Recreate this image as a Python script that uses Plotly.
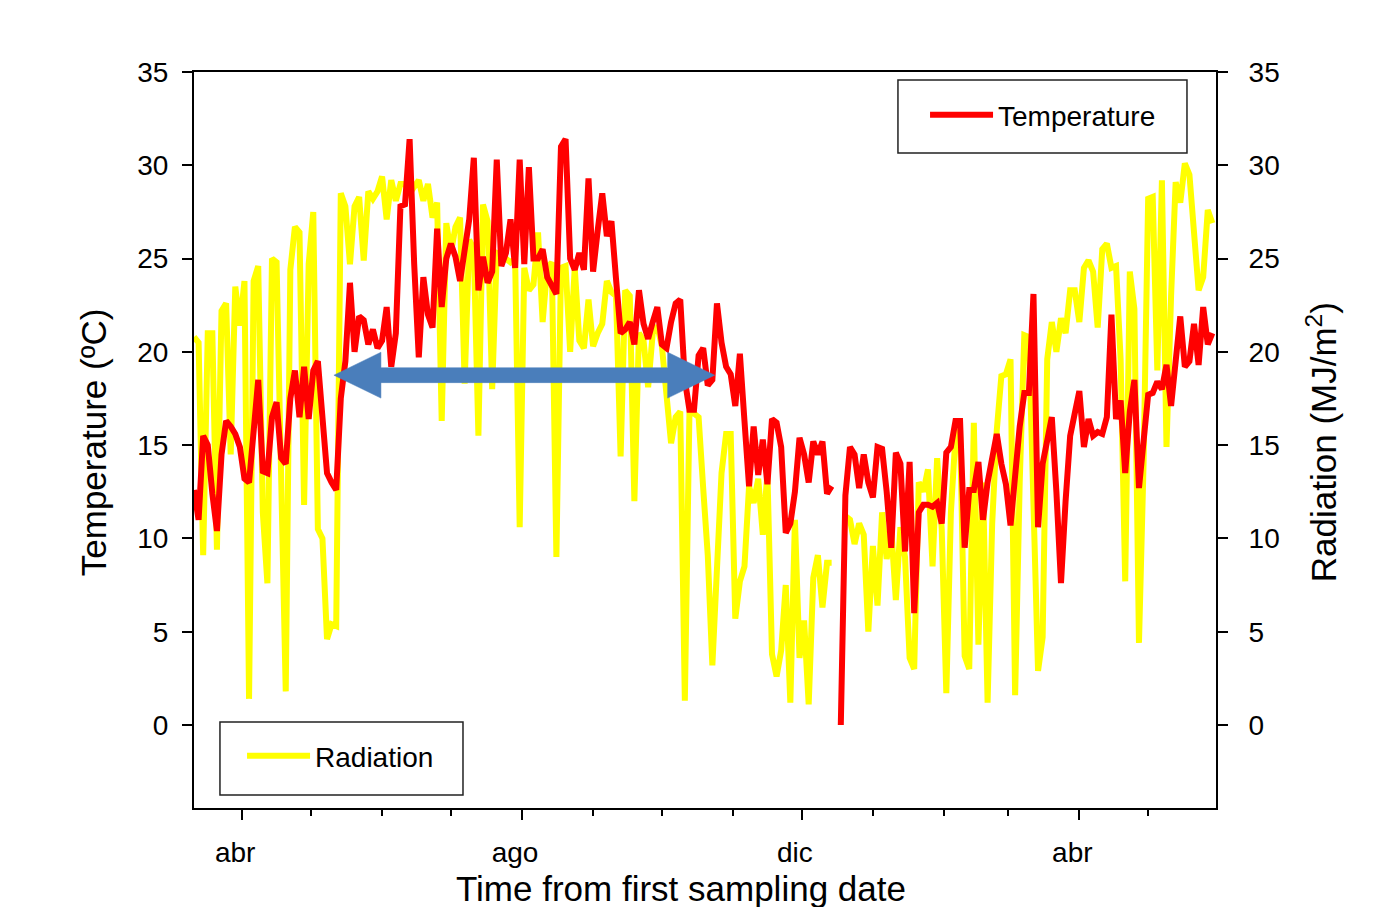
import numpy as np
import pandas as pd
import plotly.graph_objects as go

# ---------------- data ----------------
start_date = "2009-03-11"   # first sampling date
step_days = 2               # spacing between readings

temperature = [
    12.6, 11.0, 15.5, 15.0, 12.4, 10.4, 14.5, 16.3, 16.0, 15.6,
    14.9, 13.2, 13.0, 16.0, 18.5, 13.6, 13.5, 16.5, 17.3, 14.3,
    14.0, 17.5, 19.0, 16.5, 19.2, 16.4, 19.0, 19.5, 16.7, 13.5,
    13.0, 12.6, 17.5, 19.5, 23.7, 20.0, 21.9, 21.7, 20.4, 21.2,
    20.2, 20.6, 22.4, 19.2, 21.0, 27.8, 27.9, 31.4, 24.7, 19.7,
    24.0, 22.0, 21.3, 26.6, 22.4, 25.0, 25.8, 25.1, 23.8, 25.5,
    27.1, 30.4, 23.3, 25.1, 23.7, 24.3, 30.3, 24.6, 25.3, 27.1,
    24.5, 30.3, 24.7, 29.9, 25.0, 25.0, 25.5, 24.0, 23.5, 23.1,
    31.0, 31.4, 25.0, 24.4, 25.3, 24.4, 29.3, 24.3, 26.5, 28.5,
    26.2, 27.0, 23.9, 21.0, 21.2, 21.6, 20.4, 23.3, 21.5, 20.7,
    21.6, 22.4, 20.4, 20.2, 21.6, 22.6, 22.8, 18.5, 16.9, 16.9,
    19.8, 20.2, 18.2, 18.5, 22.6, 20.5, 19.2, 18.8, 17.1, 19.9,
    16.3, 12.8, 16.0, 13.4, 15.3, 12.9, 16.4, 16.2, 14.9, 10.3,
    10.8, 12.5, 15.4, 14.5, 13.0, 15.2, 14.5, 15.2, 12.4, 12.8,
    None, 0.0, 12.3, 14.9, 14.5, 12.7, 14.5, 13.0, 12.2, 14.9,
    14.8, 12.5, 9.5, 14.6, 14.0, 9.3, 14.1, 6.0, 11.4, 11.8,
    11.8, 11.7, 11.9, 10.8, 14.6, 14.9, 16.3, 16.3, 9.5, 12.6,
    12.6, 14.1, 11.0, 13.0, 14.2, 15.6, 14.0, 12.9, 10.7, 13.5,
    16.0, 17.8, 17.8, 23.1, 10.6, 14.0, 15.3, 16.5, 12.5, 7.6,
    12.0, 15.5, 16.7, 17.9, 14.9, 16.4, 15.5, 15.7, 15.6, 16.5,
    22.0, 16.4, 17.4, 13.5, 16.8, 18.5, 12.7, 15.0, 17.7, 17.8,
    18.4, 18.0, 19.3, 17.1, 19.2, 21.9, 19.2, 19.5, 21.5, 19.3,
    22.4, 20.4, 21.0,
]

radiation = [
    20.8, 20.5, 9.1, 21.0, 21.0, 9.4, 22.2, 22.6, 14.5, 23.5,
    21.4, 23.8, 1.4, 23.8, 24.6, 11.4, 7.6, 25.0, 24.8, 11.3,
    1.8, 24.4, 26.7, 26.4, 11.8, 24.7, 27.5, 10.5, 10.0, 4.6,
    5.4, 5.3, 28.5, 27.8, 24.7, 27.8, 28.3, 24.9, 28.6, 28.2,
    28.6, 29.4, 27.1, 29.2, 28.1, 29.0, 29.0, 28.5, 28.8, 29.2,
    28.1, 29.0, 27.2, 28.0, 16.3, 26.9, 25.3, 26.7, 27.2, 18.3,
    26.0, 25.5, 15.5, 27.9, 27.0, 18.0, 25.3, 25.2, 25.0, 24.8,
    25.0, 10.6, 24.5, 23.3, 23.6, 26.4, 21.6, 24.5, 24.8, 9.0,
    24.5, 24.6, 20.0, 24.5, 20.6, 20.2, 22.8, 20.3, 21.0, 21.5,
    23.8, 23.2, 23.0, 14.4, 23.3, 23.0, 12.0, 21.0, 20.6, 18.1,
    21.0, 21.4, 20.3, 18.0, 15.1, 16.5, 16.8, 1.3, 16.7, 16.7,
    16.5, 12.7, 9.1, 3.2, 8.5, 13.5, 15.6, 15.6, 5.7, 7.7,
    8.5, 12.8, 11.9, 13.2, 10.2, 13.5, 3.8, 2.6, 4.0, 7.5,
    1.2, 11.0, 3.6, 5.6, 1.1, 7.9, 9.1, 6.3, 8.7, 8.7,
    None, None, 11.2, 11.0, 9.7, 10.8, 10.2, 5.0, 9.6, 6.4,
    11.4, 8.9, 10.5, 6.7, 10.6, 9.0, 3.6, 3.0, 13.0, 12.5,
    13.7, 8.5, 14.3, 10.5, 1.7, 11.4, 15.5, 15.8, 3.7, 3.0,
    16.2, 4.3, 13.0, 1.2, 10.8, 15.8, 18.7, 18.8, 19.6, 1.6,
    13.0, 20.9, 20.8, 12.0, 2.9, 4.7, 19.6, 21.6, 20.0, 21.8,
    21.0, 23.3, 23.3, 21.6, 24.5, 24.9, 24.3, 21.3, 25.5, 25.8,
    24.5, 24.6, 19.6, 7.7, 24.3, 22.3, 4.4, 14.0, 28.2, 28.3,
    19.0, 29.2, 14.9, 23.0, 29.1, 28.0, 30.1, 29.5, 26.0, 23.3,
    24.0, 27.6, 26.9,
]

major_tick_dates = ["2009-04-01", "2009-08-01", "2009-12-01", "2010-04-01"]
major_tick_labels = ["abr", "ago", "dic", "abr"]
minor_tick_dates = ["2009-05-01", "2009-06-01", "2009-07-01", "2009-09-01",
                    "2009-10-01", "2009-11-01", "2010-01-01", "2010-02-01",
                    "2010-03-01", "2010-05-01"]
y_ticks = [0, 5, 10, 15, 20, 25, 30, 35]

# double-headed arrow marking the warm period
arrow_start = "2009-05-11"
arrow_end = "2009-10-24"
arrow_level = 18.75

# ---------------- figure ----------------
dates = pd.date_range(start_date, periods=len(temperature), freq=f"{step_days}D")
temp = np.array([np.nan if v is None else v for v in temperature], dtype=float)
rad = np.array([np.nan if v is None else v for v in radiation], dtype=float)

FONT = "Liberation Sans, Arial, sans-serif"

fig = go.Figure()
# radiation on the right axis (base layer), temperature on the left axis (drawn on top)
fig.add_trace(go.Scatter(
    x=dates, y=rad, name="Radiation", mode="lines", yaxis="y2",
    line=dict(color="#FFFF00", width=6), legend="legend2", hoverinfo="x+y",
))
fig.add_trace(go.Scatter(
    x=dates, y=temp, name="Temperature", mode="lines", yaxis="y",
    line=dict(color="#FF0000", width=6), legend="legend", hoverinfo="x+y",
))

# arrow as a filled polygon (head length in days, half-heights in axis units)
head_days = pd.Timedelta(days=20.5)
head_half = 1.23
shaft_half = 0.40
a0 = pd.Timestamp(arrow_start)
a1 = pd.Timestamp(arrow_end)
arrow_x = [a0, a0 + head_days, a0 + head_days, a1 - head_days, a1 - head_days,
           a1, a1 - head_days, a1 - head_days, a0 + head_days, a0 + head_days, a0]
arrow_y = [arrow_level, arrow_level + head_half, arrow_level + shaft_half,
           arrow_level + shaft_half, arrow_level + head_half, arrow_level,
           arrow_level - head_half, arrow_level - shaft_half,
           arrow_level - shaft_half, arrow_level - head_half, arrow_level]
fig.add_trace(go.Scatter(
    x=arrow_x, y=arrow_y, mode="lines", fill="toself", fillcolor="#4A7EBB",
    line=dict(color="#4A7EBB", width=0.5), showlegend=False, hoverinfo="skip",
    yaxis="y",
))

axis_common = dict(
    showline=True, linecolor="black", linewidth=2,
    ticks="outside", ticklen=10, tickwidth=2, tickcolor="black",
    showgrid=False, zeroline=False,
    tickfont=dict(family=FONT, size=28, color="black"),
)

# the page adds an 8px body margin, so the figure is 8px smaller than the window
fig.update_layout(
    width=1388, height=899,
    margin=dict(l=186, r=180, t=64, b=99),
    paper_bgcolor="white", plot_bgcolor="white",
    font=dict(family=FONT, color="black"),
    xaxis=dict(
        type="date", range=["2009-03-11", "2010-05-30 14:00"],
        tickmode="array", tickvals=major_tick_dates, ticktext=major_tick_labels,
        mirror=True, ticklabelshift=-7, ticklabelstandoff=8,
        minor=dict(tickmode="array", tickvals=minor_tick_dates, ticks="outside",
                   ticklen=6, tickwidth=2, tickcolor="black", showgrid=False),
        **axis_common,
    ),
    yaxis2=dict(
        range=[-4.45, 35], tickmode="array", tickvals=y_ticks,
        side="right", anchor="x", ticklabelstandoff=15, **axis_common,
    ),
    yaxis=dict(
        range=[-4.45, 35], tickmode="array", tickvals=y_ticks,
        overlaying="y2", side="left", anchor="x",
        ticklabelstandoff=8, **axis_common,
    ),
    legend=dict(
        x=0.7153, y=0.9755, xanchor="left", yanchor="top",
        bgcolor="rgba(0,0,0,0)", borderwidth=0, itemwidth=63,
        font=dict(family=FONT, size=28, color="black"),
    ),
    legend2=dict(
        x=0.0470, y=0.1046, xanchor="left", yanchor="top",
        bgcolor="rgba(0,0,0,0)", borderwidth=0, itemwidth=63,
        font=dict(family=FONT, size=28, color="black"),
    ),
    showlegend=True,
    shapes=[
        dict(type="rect", xref="paper", yref="paper", x0=0.6888, x1=0.9716,
             y0=0.8899, y1=0.9891, line=dict(color="#222", width=1.5),
             fillcolor="white", layer="above"),
        dict(type="rect", xref="paper", yref="paper", x0=0.0254, x1=0.2632,
             y0=0.0177, y1=0.1168, line=dict(color="#222", width=1.5),
             fillcolor="white", layer="above"),
    ],
)

# axis titles as text annotations
fig.add_annotation(text="Time from first sampling date", xref="paper", yref="paper",
                   x=0.4765, y=-0.109, showarrow=False, xanchor="center", yanchor="middle",
                   font=dict(family=FONT, size=35, color="black"))
fig.add_annotation(text="Temperature (ºC)", xref="paper", yref="paper",
                   x=-0.0988, y=0.497, showarrow=False, textangle=-90,
                   xanchor="center", yanchor="middle",
                   font=dict(family=FONT, size=35, color="black"))
fig.add_annotation(text="Radiation (MJ/m<sup>2</sup>)", xref="paper", yref="paper",
                   x=1.1037, y=0.497, showarrow=False, textangle=-90,
                   xanchor="center", yanchor="middle",
                   font=dict(family=FONT, size=35, color="black"))

fig.write_html("out.html")
